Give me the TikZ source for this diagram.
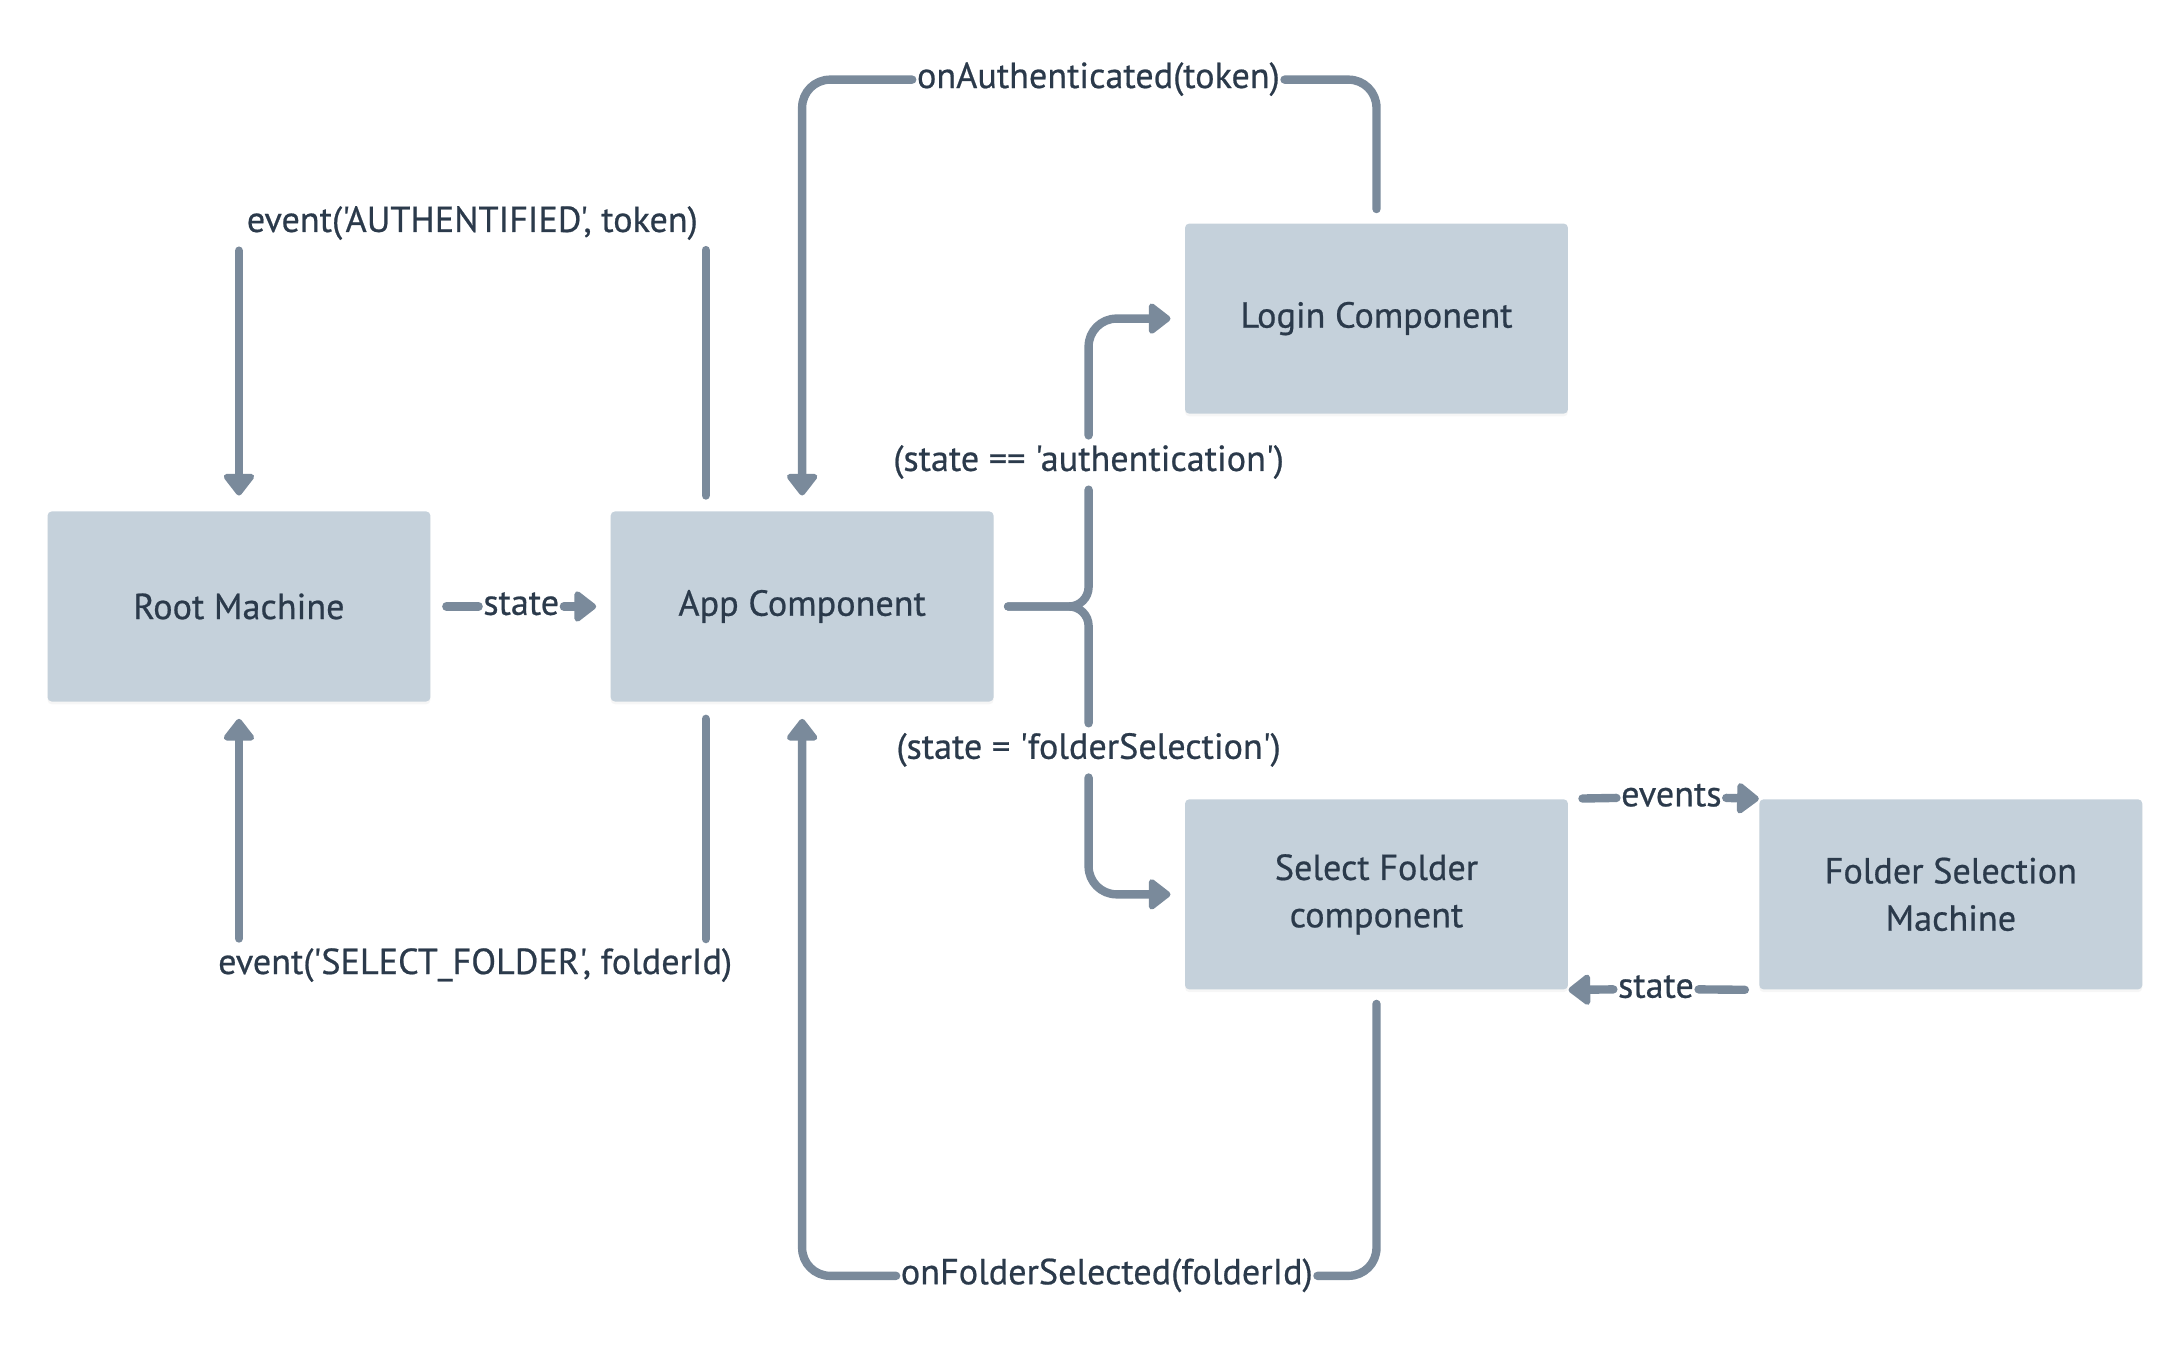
\documentclass[tikz,border=0pt]{standalone}
\usepackage{fontspec}
\newfontfamily\diagfont{PT Sans}[FakeBold=0.6]
\usetikzlibrary{arrows.meta,shadows}
\definecolor{boxfill}{HTML}{C5D1DB}
\definecolor{wirecol}{HTML}{7A8A9B}
\definecolor{ink}{HTML}{2B3A4B}
\newcommand\labelfont{\diagfont\fontsize{13}{17}\selectfont}
\tikzset{
  box/.style={fill=boxfill,draw=none,rounded corners=1.5bp,minimum width=137bp,minimum height=68bp,
    align=center,text=ink,font=\labelfont,drop shadow={opacity=.07,shadow xshift=0bp,shadow yshift=-1bp}},
  lbl/.style={text=ink,font=\labelfont,inner xsep=1.5bp,inner ysep=3.5bp,text height=9bp,text depth=3bp},
  wire/.style={draw=wirecol,line width=3bp,line cap=round},
}
\begin{document}
\begin{tikzpicture}[>={Triangle[length=8.5bp,width=12.5bp,round]},line join=round,]
\useasboundingbox (0bp,0bp) rectangle (780bp,483bp);
%%
\node (node_root) at (85.5bp,266bp) [box] {Root Machine};
  \node (node_app) at (287bp,266bp) [box] {App Component};
  \node (node_login) at (492.5bp,369bp) [box] {Login Component};
  \node (node_select) at (492.5bp,163bp) [box] {Select Folder\\component};
  \node (node_fsm) at (698bp,163bp) [box] {Folder Selection\\Machine};
%%
\node (lbl_auth_event) at (169bp,403bp) [lbl] {event('AUTHENTIFIED', token)};
  \node (lbl_sel_event) at (170bp,137.5bp) [lbl] {event('SELECT\_FOLDER', folderId)};
  \node (lbl_on_auth) at (393bp,454.5bp) [lbl] {onAuthenticated(token)};
  \node (lbl_on_folder) at (396bp,26.5bp) [lbl] {onFolderSelected(folderId)};
  \node (lbl_state_a) at (186.5bp,266bp) [lbl] {state};
  \node (lbl_cond_auth) at (389.5bp,317.5bp) [lbl] {(state == 'authentication')};
  \node (lbl_cond_folder) at (389.5bp,214.5bp) [lbl] {(state = 'folderSelection')};
  \node (lbl_events) at (598bp,197.5bp) [lbl] {events};
  \node (lbl_state_b) at (592.5bp,129bp) [lbl] {state};
  \coordinate (auth_up) at (252.5bp,393.5bp);
  \coordinate (sel_down) at (252.5bp,147bp);
%%
\draw [wire,->,shorten >=5.5bp] (node_root.north |- lbl_auth_event.south) -- (node_root.north);
  \draw [wire,shorten <=5.5bp] (auth_up |- node_app.north) -- (auth_up);
  \draw [wire,->,shorten >=6bp] (node_root.south |- lbl_sel_event.north) -- (node_root.south);
  \draw [wire,shorten <=6bp] (sel_down |- node_app.south) -- (sel_down);
  \draw [wire,rounded corners=10bp,shorten <=5bp] (node_login.north) |- (lbl_on_auth.east);
  \draw [wire,->,rounded corners=10bp,shorten >=5.5bp] (lbl_on_auth.west) -| (node_app.north);
  \draw [wire,rounded corners=10bp,shorten <=5bp] (node_select.south) |- (lbl_on_folder.east);
  \draw [wire,->,rounded corners=10bp,shorten >=6bp] (lbl_on_folder.west) -| (node_app.south);
  \draw [wire,shorten <=5.5bp] (node_root.east) -- (lbl_state_a.west);
  \draw [wire,->,shorten >=5bp] (lbl_state_a.east) -- (node_app.west);
  \draw [wire,rounded corners=7bp,shorten <=5bp] (node_app.east) -| (lbl_cond_auth.south);
  \draw [wire,rounded corners=7bp,shorten <=5bp] (node_app.east) -| (lbl_cond_folder.north);
  \draw [wire,->,rounded corners=10bp,shorten >=5bp] (lbl_cond_auth.north) |- (node_login.west);
  \draw [wire,->,rounded corners=10bp,shorten >=5bp] (lbl_cond_folder.south) |- (node_select.west);
  \draw [wire,shorten <=5bp] (node_select.north east) -- (lbl_events.west);
  \draw [wire,->] (lbl_events.east) -- (node_fsm.north west);
  \draw [wire,shorten <=5bp] (node_fsm.south west) -- (lbl_state_b.east);
  \draw [wire,->] (lbl_state_b.west) -- (node_select.south east);
%
\end{tikzpicture}
\end{document}
